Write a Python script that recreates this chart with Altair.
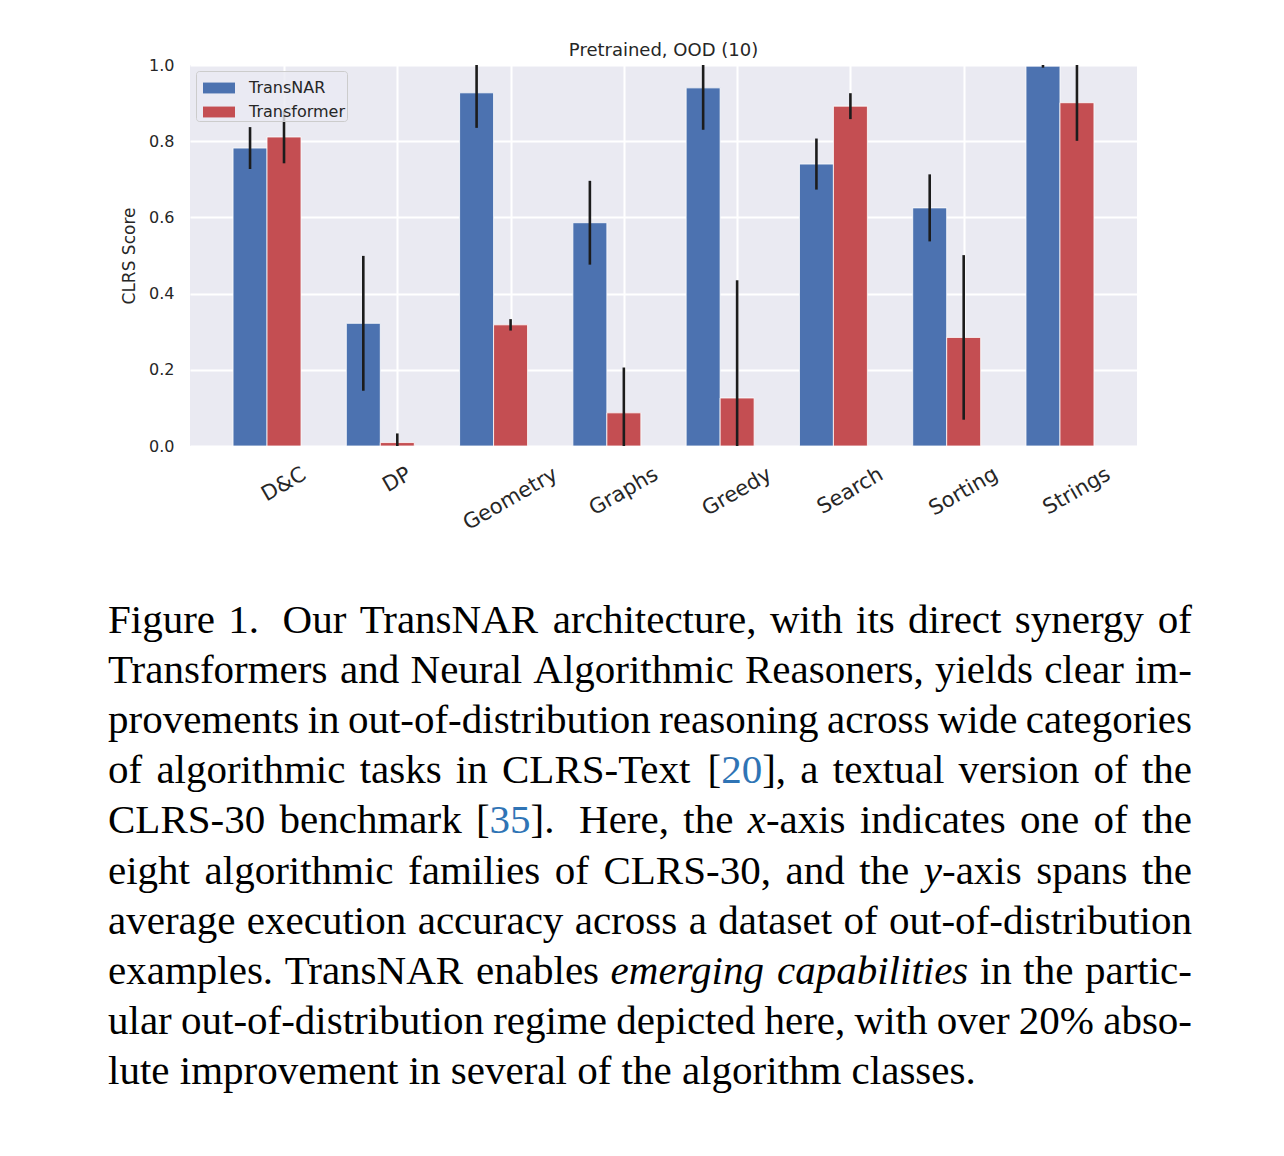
import re
import altair as alt
import pandas as pd

# ---------------- data ----------------
categories = ["D&C", "DP", "Geometry", "Graphs", "Greedy", "Search", "Sorting", "Strings"]
series = ["TransNAR", "Transformer"]
transnar_score = [0.782, 0.322, 0.927, 0.586, 0.940, 0.740, 0.625, 0.997]
transnar_err = [0.055, 0.177, 0.092, 0.110, 0.110, 0.067, 0.088, 0.004]
transformer_score = [0.811, 0.009, 0.318, 0.087, 0.126, 0.892, 0.285, 0.901]
transformer_err = [0.069, 0.024, 0.015, 0.119, 0.309, 0.034, 0.216, 0.100]
y_ticks = [0.0, 0.2, 0.4, 0.6, 0.8, 1.0]
colors = ["#4C72B0", "#C44E52"]
title_text = "Pretrained, OOD (10)"
y_title = "CLRS Score"

# two spaces mark a wide (sentence) space; *..* italic; #..# citation colour
caption_lines = [
    "Figure 1.  Our TransNAR architecture, with its direct synergy of",
    "Transformers and Neural Algorithmic Reasoners, yields clear im-",
    "provements in out-of-distribution reasoning across wide categories",
    "of algorithmic tasks in CLRS-Text [#20#], a textual version of the",
    "CLRS-30 benchmark [#35#].  Here, the *x*-axis indicates one of the",
    "eight algorithmic families of CLRS-30, and the *y*-axis spans the",
    "average execution accuracy across a dataset of out-of-distribution",
    "examples. TransNAR enables *emerging* *capabilities* in the partic-",
    "ular out-of-distribution regime depicted here, with over 20% abso-",
    "lute improvement in several of the algorithm classes.",
]

# ---------------- layout constants ----------------
W, H = 947, 381
PAD = {"left": 190, "top": 65, "right": 1284 - 190 - W, "bottom": 1156 - 65 - H}
BAR_W = 0.3
X_DOMAIN = [-0.83, 7.53]
TXT = "#262626"
FONT = "DejaVu Sans"

# ---------------- bar data ----------------
rows = []
for i, c in enumerate(categories):
    rows.append({"cat": c, "idx": i, "series": series[0], "slot": 0,
                 "value": transnar_score[i], "err": transnar_err[i]})
    rows.append({"cat": c, "idx": i, "series": series[1], "slot": 1,
                 "value": transformer_score[i], "err": transformer_err[i]})
bars_df = pd.DataFrame(rows)

x_scale = alt.Scale(domain=X_DOMAIN, nice=False, zero=False, padding=0)
y_scale = alt.Scale(domain=[0, 1], nice=False, padding=0)
x_axis = alt.Axis(values=list(range(len(categories))), labels=False, ticks=False,
                  domain=False, title=None, gridColor="white", gridWidth=2)
y_axis = alt.Axis(values=y_ticks, format=".1f", title=y_title, titleFont=FONT,
                  titleFontSize=17, titleFontWeight="normal", titleColor=TXT,
                  titlePadding=10, labelFont=FONT, labelFontSize=16, labelColor=TXT,
                  labelPadding=16, ticks=False, domain=False, gridColor="white",
                  gridWidth=2)

base = alt.Chart(bars_df).transform_calculate(
    x0=f"datum.idx + (datum.slot - 1.5) * {BAR_W}",
    x1=f"datum.idx + (datum.slot - 0.5) * {BAR_W}",
    xc=f"datum.idx + (datum.slot - 1) * {BAR_W}",
    lo="datum.value - datum.err",
    hi="datum.value + datum.err",
)

bars = base.mark_bar(stroke="white", strokeWidth=1, strokeOpacity=0.8,
                     orient="vertical").encode(
    x=alt.X("x0:Q", scale=x_scale, axis=x_axis),
    x2="x1:Q",
    y=alt.Y("value:Q", scale=y_scale, axis=y_axis),
    y2=alt.datum(0),
    color=alt.Color(
        "series:N",
        scale=alt.Scale(domain=series, range=colors),
        legend=alt.Legend(
            title=None, orient="top-left", offset=6, padding=1,
            symbolOffset=6,
            fillColor="rgba(234,234,242,0.8)", strokeColor="#cccccc",
            cornerRadius=3, symbolType="M-1,-0.34H1V0.34H-1Z", symbolSize=1024,
            symbolStrokeWidth=0, labelFont=FONT, labelFontSize=16,
            labelColor=TXT, labelOffset=14, rowPadding=0,
        ),
    ),
)

errs = base.mark_rule(color="#1c1c1c", strokeWidth=2.6, clip=True).encode(
    x=alt.X("xc:Q", scale=x_scale, axis=x_axis),
    y=alt.Y("lo:Q", scale=y_scale, axis=y_axis),
    y2="hi:Q",
)

# ---------------- title ----------------
title = alt.Chart(pd.DataFrame({"t": [title_text]})).mark_text(
    font=FONT, fontSize=18, color=TXT, align="center", baseline="alphabetic",
).encode(text="t:N", x=alt.value(W / 2), y=alt.value(-9))

# ---------------- rotated x tick labels ----------------
dejavu = {"D": 770, "&": 780, "C": 698, "P": 603, "G": 775, "e": 615, "o": 612,
          "m": 974, "t": 392, "r": 411, "y": 592, "a": 613, "p": 635, "h": 634,
          "s": 521, "d": 635, "S": 635, "c": 550, "i": 278, "n": 634, "g": 635}
XLAB_SIZE = 21
lab_df = pd.DataFrame({
    "cat": categories,
    "idx": list(range(len(categories))),
    "lab_y": [H + 27 + 0.25 * sum(dejavu.get(ch, 600) for ch in c) / 1000 * XLAB_SIZE
              for c in categories],
})
xlabels = alt.Chart(lab_df).mark_text(
    angle=330, align="center", baseline="middle", font=FONT,
    fontSize=XLAB_SIZE, color=TXT,
).encode(
    x=alt.X("idx:Q", scale=x_scale, axis=x_axis),
    y=alt.Y("lab_y:Q", scale=None, axis=None),
    text="cat:N",
)

# ---------------- caption (justified Times text) ----------------
roman = dict(zip("abcdefghijklmnopqrstuvwxyz",
                 [444, 500, 444, 500, 444, 333, 500, 500, 278, 278, 500, 278, 778,
                  500, 500, 500, 500, 333, 389, 278, 500, 500, 722, 500, 500, 444]))
roman.update(dict(zip("ABCDEFGHIJKLMNOPQRSTUVWXYZ",
                      [722, 667, 667, 722, 611, 556, 722, 722, 333, 389, 722, 611, 889,
                       722, 722, 556, 722, 667, 556, 611, 722, 722, 944, 722, 722, 611])))
roman.update({d: 500 for d in "0123456789"})
roman.update({".": 250, ",": 250, "-": 333, "[": 333, "]": 333, "%": 833})
italic = dict(roman)
italic.update(dict(zip("abcdefghijklmnopqrstuvwxyz",
                       [500, 500, 444, 500, 444, 278, 500, 500, 278, 278, 444, 278, 722,
                        500, 500, 500, 500, 389, 389, 278, 500, 444, 667, 444, 444, 389])))

CAP_SIZE = 41
CAP_LEFT, CAP_RIGHT = 108, 1192
CAP_BASE0, CAP_STEP = 633, 50.1
SPACE = 0.25 * CAP_SIZE
SENT_EXTRA = 0.25 * CAP_SIZE


def tw(s, it):
    tab = italic if it else roman
    return sum(tab.get(ch, 500) for ch in s) / 1000 * CAP_SIZE


def parse(word):
    segs = []
    for m in re.finditer(r"\*[^*]+\*|#[^#]+#|[^*#]+", word):
        t = m.group(0)
        if t.startswith("*"):
            segs.append((t[1:-1], True, "black"))
        elif t.startswith("#"):
            segs.append((t[1:-1], False, "#2f74b5"))
        else:
            segs.append((t, False, "black"))
    return segs


cap_rows = []
for li, line in enumerate(caption_lines):
    parts = re.split(r"( +)", line)
    words = [parse(w) for w in parts[0::2]]
    gaps = [SPACE if len(g) == 1 else SPACE + SENT_EXTRA for g in parts[1::2]]
    widths = [sum(tw(t, it) for t, it, _ in w) for w in words]
    natural = sum(widths) + sum(gaps)
    last = li == len(caption_lines) - 1
    stretch = 0 if last or not gaps else (CAP_RIGHT - CAP_LEFT - natural) / len(gaps)
    x = CAP_LEFT
    for k, w in enumerate(words):
        sx = x
        for t, it, col in w:
            cap_rows.append({"t": t, "px": sx - PAD["left"],
                             "py": CAP_BASE0 + li * CAP_STEP - PAD["top"],
                             "it": it, "col": col})
            sx += tw(t, it)
        if k < len(gaps):
            x += widths[k] + gaps[k] + stretch
cap_df = pd.DataFrame(cap_rows)


def cap_layer(is_italic):
    return alt.Chart(cap_df).transform_filter(
        f"datum.it == {'true' if is_italic else 'false'}"
    ).mark_text(
        align="left", baseline="alphabetic", font="Liberation Serif",
        fontSize=CAP_SIZE, fontStyle="italic" if is_italic else "normal",
    ).encode(
        x=alt.X("px:Q", scale=None, axis=None),
        y=alt.Y("py:Q", scale=None, axis=None),
        text="t:N",
        color=alt.Color("col:N", scale=None, legend=None),
    )


chart = alt.layer(bars, errs, title, xlabels, cap_layer(False), cap_layer(True)).properties(
    width=W,
    height=H,
    padding=PAD,
    autosize=alt.AutoSizeParams(type="none"),
    background="white",
).configure_view(fill="#EAEAF2", stroke=None)

chart.save("out.html", embed_options={"renderer": "svg", "actions": False})
